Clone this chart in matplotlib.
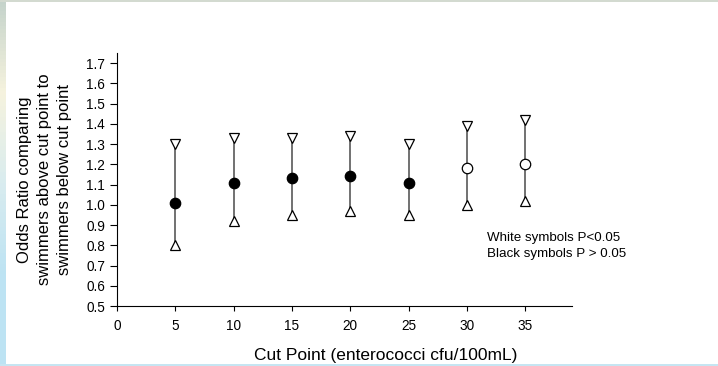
import numpy as np
import matplotlib
matplotlib.use("Agg")
import matplotlib.pyplot as plt
from matplotlib.colors import LinearSegmentedColormap

plt.rcParams['font.family'] = ['Liberation Sans', 'DejaVu Sans']

# data
cut_points = [5, 10, 15, 20, 25, 30, 35]
odds_ratio = [1.01, 1.11, 1.13, 1.14, 1.11, 1.18, 1.20]
ci_upper = [1.30, 1.33, 1.33, 1.34, 1.30, 1.39, 1.42]
ci_lower = [0.80, 0.92, 0.95, 0.97, 0.95, 1.00, 1.02]
significant = [False, False, False, False, False, True, True]

y_ticks = [0.5, 0.6, 0.7, 0.8, 0.9, 1.0, 1.1, 1.2, 1.3, 1.4, 1.5, 1.6, 1.7]
x_ticks = [0, 5, 10, 15, 20, 25, 30, 35]

fig = plt.figure(figsize=(7.18, 3.66), dpi=100, facecolor='white')

# slide background: thin strips on top, left and bottom
strip = fig.add_axes([0, 0, 6 / 718, 1])
cmap = LinearSegmentedColormap.from_list(
    'strip', ['#c5d3cb', '#f6f3de', '#d9ecef', '#bde3f3', '#bde3f3'])
strip.imshow(np.linspace(0, 1, 100).reshape(-1, 1), aspect='auto', cmap=cmap)
strip.axis('off')
top = fig.add_axes([0, 1 - 2 / 366, 1, 2 / 366])
top.add_patch(plt.Rectangle((0, 0), 1, 1, color='#d3dad0', transform=top.transAxes))
top.axis('off')
bottom = fig.add_axes([0, 0, 1, 2 / 366])
bottom.add_patch(plt.Rectangle((0, 0), 1, 1, color='#c6e5f2', transform=bottom.transAxes))
bottom.axis('off')

ax = fig.add_axes([117 / 718, 1 - 306 / 366, (572 - 117) / 718, (306 - 53) / 366])

ax.vlines(cut_points, ci_lower, ci_upper, color='#4a4a4a', linewidth=1.1, zorder=1)
ax.plot(cut_points, ci_upper, linestyle='none', marker='v', markersize=7,
        markerfacecolor='white', markeredgecolor='black', markeredgewidth=0.9, zorder=3)
ax.plot(cut_points, ci_lower, linestyle='none', marker='^', markersize=7,
        markerfacecolor='white', markeredgecolor='black', markeredgewidth=0.9, zorder=3)
for x, y, sig in zip(cut_points, odds_ratio, significant):
    ax.plot(x, y, marker='o', markersize=7.5, linestyle='none',
            markerfacecolor='white' if sig else 'black',
            markeredgecolor='black', markeredgewidth=0.9, zorder=3)

ax.text(31.7, 0.835, 'White symbols P<0.05', fontsize=9.6, va='center')
ax.text(31.7, 0.755, 'Black symbols P > 0.05', fontsize=9.6, va='center')

ax.set_xlim(0, 39)
ax.set_ylim(0.5, 1.75)
ax.set_xticks(x_ticks)
ax.set_yticks(y_ticks)
ax.set_yticklabels([f'{v:.1f}' for v in y_ticks])
ax.tick_params(axis='both', direction='out', width=0.8, labelsize=9.8)
ax.tick_params(axis='y', length=5, pad=3.5)
ax.tick_params(axis='x', length=3.5, pad=5.5)
for side in ['top', 'right']:
    ax.spines[side].set_visible(False)
for side in ['left', 'bottom']:
    ax.spines[side].set_linewidth(0.8)

ax.set_xlabel('Cut Point (enterococci cfu/100mL)', fontsize=12.5, va='center')
ax.xaxis.set_label_coords(0.591, -0.195)
ax.set_ylabel('Odds Ratio comparing\nswimmers above cut point to\nswimmers below cut point',
              fontsize=12, linespacing=1.4, va='center')
ax.yaxis.set_label_coords(-0.16, 0.5)

fig.savefig('out.png', dpi=100, facecolor='white')
